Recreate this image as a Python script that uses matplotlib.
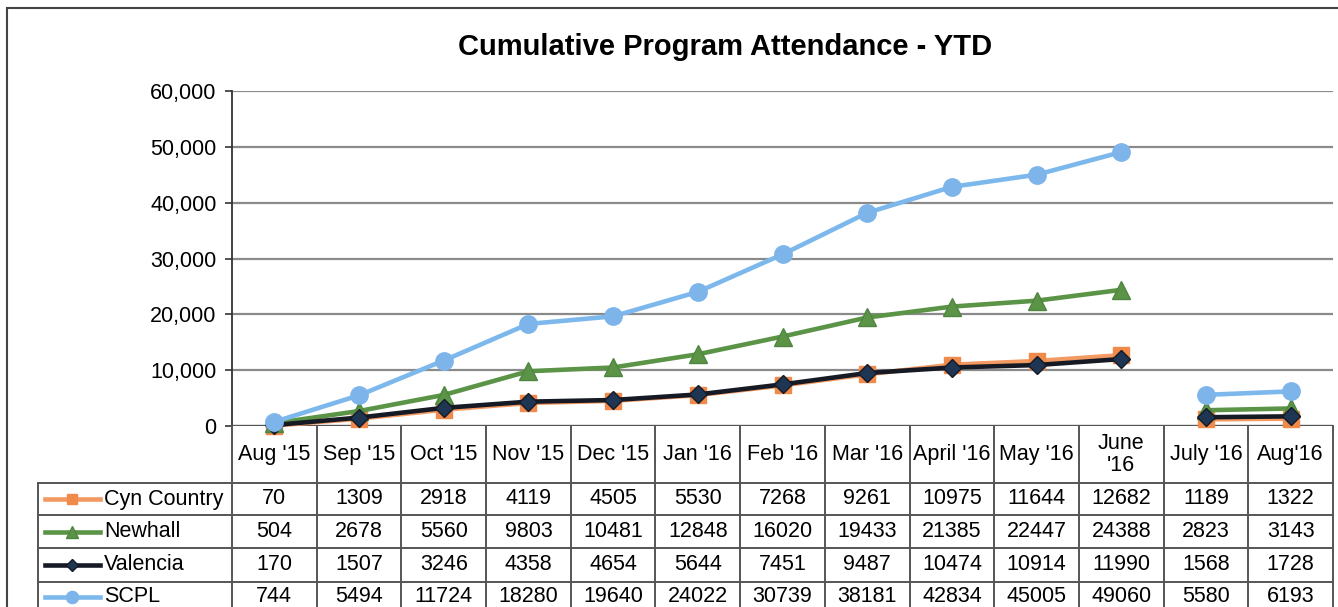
import matplotlib
matplotlib.use("Agg")
import matplotlib.pyplot as plt
import matplotlib.transforms as mtransforms
from matplotlib.lines import Line2D
from matplotlib.patches import Rectangle
from matplotlib.ticker import FuncFormatter
import numpy as np

# -----------------------------
# Data
# -----------------------------
months = ["Aug '15", "Sep '15", "Oct '15", "Nov '15", "Dec '15", "Jan '16", "Feb '16",
          "Mar '16", "April '16", "May '16", "June\n'16", "July '16", "Aug'16"]
series_names = ["Cyn Country", "Newhall", "Valencia", "SCPL"]
cyn_country = [70, 1309, 2918, 4119, 4505, 5530, 7268, 9261, 10975, 11644, 12682, 1189, 1322]
newhall = [504, 2678, 5560, 9803, 10481, 12848, 16020, 19433, 21385, 22447, 24388, 2823, 3143]
valencia = [170, 1507, 3246, 4358, 4654, 5644, 7451, 9487, 10474, 10914, 11990, 1568, 1728]
scpl = [744, 5494, 11724, 18280, 19640, 24022, 30739, 38181, 42834, 45005, 49060, 5580, 6193]
# fiscal year restarts at July '16 -> line break
year_split = 11

# -----------------------------
# Styles
# -----------------------------
styles = {
    "Cyn Country": dict(color="#F39A62", marker="s", ms=11, mfc="#F08A4B", mec="#F08A4B", z=2),
    "Newhall": dict(color="#5B9447", marker="^", ms=12.5, mfc="#5B9447", mec="#4E8540", z=3),
    "Valencia": dict(color="#161A24", marker="D", ms=9, mfc="#1F3554", mec="#161A24", z=4),
    "SCPL": dict(color="#7DB8EC", marker="o", ms=12.5, mfc="#7DB4EA", mec="#7DB4EA", z=5),
}
values = dict(zip(series_names, [cyn_country, newhall, valencia, scpl]))

W, H = 1338, 607
plt.rcParams["font.family"] = ["Liberation Sans", "DejaVu Sans"]

fig = plt.figure(figsize=(W / 100, H / 100), dpi=100)

# plot area in pixels
left, right, top, bottom = 232, 1333, 91, 426
ax = fig.add_axes([left / W, 1 - bottom / H, (right - left) / W, (bottom - top) / H])

x = np.arange(len(months))
for name in series_names:
    st = styles[name]
    y = np.array(values[name], dtype=float)
    for seg in (slice(0, year_split), slice(year_split, len(months))):
        ax.plot(x[seg], y[seg], color=st["color"], lw=3.3, marker=st["marker"], ms=st["ms"],
                mfc=st["mfc"], mec=st["mec"], zorder=st["z"], clip_on=False)

ax.set_xlim(-0.5, len(months) - 0.5)
ax.set_ylim(0, 60000)
ax.set_yticks(np.arange(0, 60001, 10000))
ax.yaxis.set_major_formatter(FuncFormatter(lambda v, p: f"{int(v):,}"))
ax.tick_params(axis="y", labelsize=15.5, length=5, width=1.2, color="#333333", pad=6)
ax.set_xticks([])
ax.grid(axis="y", color="#8a8a8a", lw=1.6)
ax.set_axisbelow(True)
for s in ["top", "right", "bottom"]:
    ax.spines[s].set_visible(False)
ax.spines["left"].set_color("#333333")
ax.spines["left"].set_linewidth(1.3)
ax.axhline(0, color="#555555", lw=1.6, zorder=1)

fig.text(725 / W, 1 - 47 / H, "Cumulative Program Attendance - YTD", ha="center", va="center",
         fontsize=21, fontweight="bold")

# -----------------------------
# Data table below the chart
# -----------------------------
def fy(py):
    return 1 - py / H

blend = mtransforms.blended_transform_factory(ax.transData, fig.transFigure)
line_kw = dict(color="#555555", lw=1.4)

header_bottom = 483
row_edges = [483, 515, 548, 582, 616]
table_left = 38
fs = 15.5

# header labels
for i, m in enumerate(months):
    fig.text(i, fy((bottom + header_bottom) / 2), m, transform=blend, ha="center", va="center",
             fontsize=fs, linespacing=1.05)

# vertical separators
for k in range(len(months) + 1):
    fig.add_artist(Line2D([k - 0.5, k - 0.5], [fy(bottom), fy(H + 5)], transform=blend, **line_kw))
fig.add_artist(Line2D([table_left / W, table_left / W], [fy(header_bottom), fy(H + 5)],
                      transform=fig.transFigure, **line_kw))
# horizontal separators
for r in row_edges[:-1]:
    fig.add_artist(Line2D([table_left / W, right / W], [fy(r), fy(r)],
                          transform=fig.transFigure, **line_kw))

# rows
for j, name in enumerate(series_names):
    st = styles[name]
    yc = (row_edges[j] + row_edges[j + 1]) / 2
    if j == len(series_names) - 1:
        yc = 597
    fig.add_artist(Line2D([45 / W, 100 / W], [fy(yc), fy(yc)], transform=fig.transFigure,
                          color=st["color"], lw=3.3))
    fig.add_artist(Line2D([72 / W], [fy(yc)], transform=fig.transFigure, marker=st["marker"],
                          ms=st["ms"] * 0.7, mfc=st["mfc"], mec=st["mec"], lw=0))
    fig.text(104 / W, fy(yc), name, ha="left", va="center", fontsize=fs)
    for i, v in enumerate(values[name]):
        fig.text(i, fy(yc), str(v), transform=blend, ha="center", va="center", fontsize=fs)

# outer chart frame
fig.add_artist(Rectangle((7 / W, fy(H + 20)), (W + 20) / W, (H + 20 - 8) / H,
                         transform=fig.transFigure, fill=False, ec="#444444", lw=1.5))

fig.savefig("out.png", dpi=100)
